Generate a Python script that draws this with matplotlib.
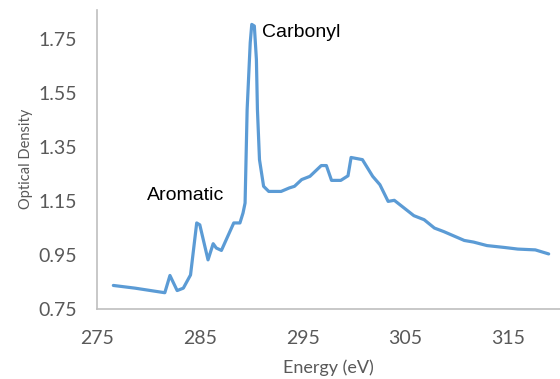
import matplotlib
matplotlib.use("Agg")
import matplotlib.pyplot as plt

# NEXAFS spectrum
energy = [276.6, 278.7, 280.4, 281.6, 282.1, 282.8, 283.4, 284.1, 284.7, 285.0,
          285.8, 286.3, 286.6, 287.1, 288.3, 288.9, 289.2, 289.4, 289.6, 289.9,
          290.05, 290.3, 290.5, 290.6, 290.8, 291.2, 291.7, 292.9, 293.7, 294.2,
          294.9, 295.7, 296.8, 297.3, 297.8, 298.7, 299.4, 299.7, 300.8, 301.8,
          302.5, 303.3, 303.9, 305.8, 306.8, 307.8, 308.7, 310.7, 311.6, 312.9,
          314.6, 315.9, 317.6, 318.9]
od = [0.837, 0.827, 0.817, 0.81, 0.874, 0.818, 0.827, 0.876, 1.069, 1.062,
      0.932, 0.992, 0.976, 0.967, 1.069, 1.069, 1.106, 1.143, 1.49, 1.738,
      1.806, 1.80, 1.676, 1.49, 1.304, 1.205, 1.186, 1.186, 1.199, 1.205,
      1.23, 1.242, 1.282, 1.282, 1.227, 1.227, 1.244, 1.312, 1.304, 1.242,
      1.211, 1.149, 1.153, 1.096, 1.081, 1.05, 1.037, 1.004, 0.998, 0.985,
      0.978, 0.972, 0.969, 0.954]

xticks = [275, 285, 295, 305, 315]
yticks = [0.75, 0.95, 1.15, 1.35, 1.55, 1.75]

plt.rcParams['font.family'] = ['Lato', 'DejaVu Sans']

fig = plt.figure(figsize=(5.6, 3.79), dpi=100)
ax = fig.add_axes([0.173, 0.185, 0.827, 0.789])

ax.plot(energy, od, color='#5B9BD5', linewidth=2.3,
        solid_joinstyle='round', solid_capstyle='round')

ax.set_xlim(275, 320)
ax.set_ylim(0.75, 1.86)
ax.set_xticks(xticks)
ax.set_yticks(yticks)
ax.set_yticklabels(['%.2f' % v for v in yticks])
ax.tick_params(length=0, labelsize=14, colors='#595959')
ax.tick_params(axis='x', pad=15)
ax.tick_params(axis='y', pad=14)

for s in ['top', 'right']:
    ax.spines[s].set_visible(False)
for s in ['left', 'bottom']:
    ax.spines[s].set_color('#BFBFBF')
    ax.spines[s].set_linewidth(1.2)

ax.set_xlabel('Energy (eV)', color='#595959', fontsize=13, labelpad=9)
ax.set_ylabel('Optical Density', color='#595959', fontsize=10.5, labelpad=4)

ax.text(291.0, 1.776, 'Carbonyl', fontsize=14, family=['Liberation Sans'],
        va='center', ha='left')
ax.text(279.9, 1.17, 'Aromatic', fontsize=14, family=['Liberation Sans'],
        va='center', ha='left')

fig.savefig('out.png', dpi=100)
